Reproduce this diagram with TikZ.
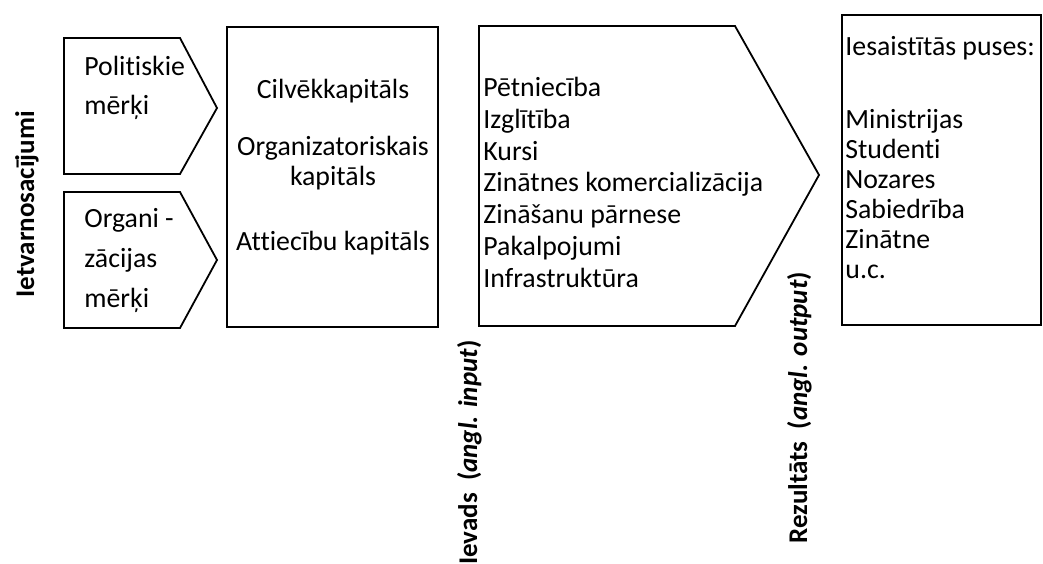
\documentclass[tikz,border=0pt]{standalone}
\usepackage{fontspec}
\setmainfont{Carlito}[RawFeature={-liga;-clig;-dlig;-calt}]
\begin{document}
\begin{tikzpicture}[x=0.5pt,y=-0.5pt,
  shp/.style={draw=black,line width=0.9pt,line join=miter},
  txt/.style={inner sep=0pt,font=\fontsize{13.9}{16}\selectfont},
  lt/.style={txt,anchor=base west},
  ct/.style={txt,anchor=base},
  vt/.style={inner sep=0pt,font=\fontsize{13.5}{16}\selectfont\bfseries,rotate=90}]
\useasboundingbox (0,0) rectangle (1043,563);
% shapes
\draw[shp] (64,38) -- (180,38) -- (217,108) -- (180,174) -- (64,174) -- cycle;
\draw[shp] (64,192) -- (180,192) -- (217,260) -- (180,328) -- (64,328) -- cycle;
\draw[shp] (227,27) rectangle (438,327);
\draw[shp] (479,26) -- (735,26) -- (819,175) -- (735,326) -- (479,326) -- cycle;
\draw[shp] (842,15) rectangle (1041,325);
% left pentagons
\node[lt] (p1a) at (84,75) {Politiskie};
\node[lt] (p1b) at (84,114) {mērķi};
\node[lt] (p2a) at (84,227) {Organi -};
\node[lt] (p2b) at (84,267) {zācijas};
\node[lt] (p2c) at (84,307) {mērķi};
% capitals
\node[ct] (c1) at (333,98) {Cilvēkkapitāls};
\node[ct] (c2) at (333,155) {Organizatoriskais};
\node[ct] (c3) at (333,185) {kapitāls};
\node[ct] (c4) at (333,250) {Attiecību kapitāls};
% outputs
\node[lt] (o1) at (483,96) {Pētniecība};
\node[lt] (o2) at (483,128) {Izglītība};
\node[lt] (o3) at (483,160) {Kursi};
\node[lt] (o4) at (483,191) {Zinātnes komercializācija};
\node[lt] (o5) at (483,223) {Zināšanu pārnese};
\node[lt] (o6) at (483,255) {Pakalpojumi};
\node[lt] (o7) at (483,287) {Infrastruktūra};
% stakeholders
\node[lt] (s0) at (845,55) {Iesaistītās puses:};
\node[lt] (s1) at (845,128) {Ministrijas};
\node[lt] (s2) at (845,158) {Studenti};
\node[lt] (s3) at (845,188) {Nozares};
\node[lt] (s4) at (845,218) {Sabiedrība};
\node[lt] (s5) at (845,248) {Zinātne};
\node[lt] (s6) at (845,278) {u.c.};
% vertical labels
\node[vt,anchor=base west] (v1) at (34,298) {Ietvarnosacījumi};
\node[vt,anchor=base east] (v2) at (477,340) {Ievads\ \ (\textit{angl. input})};
\node[vt,anchor=base west] (v3) at (807,544) {Rezultāts\ \ (\textit{angl. output})};
\end{tikzpicture}
\end{document}
